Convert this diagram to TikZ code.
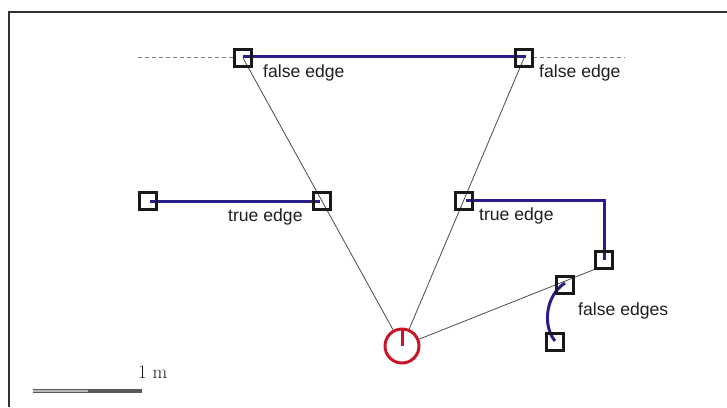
\documentclass[tikz,border=0pt]{standalone}
\usepackage{fontspec}
\usetikzlibrary{calc}
\setmainfont{Liberation Sans}
\newfontfamily\lmserif{Latin Modern Roman}
\definecolor{edgeblue}{RGB}{42,30,140}
\definecolor{origred}{RGB}{200,22,40}
\definecolor{raygray}{RGB}{75,75,75}
\definecolor{boxblack}{RGB}{25,25,25}
\definecolor{textgray}{RGB}{30,30,30}
\definecolor{framegray}{RGB}{50,50,50}
\tikzset{
  mark box/.style={draw=boxblack, line width=2.4pt, rectangle, minimum size=17pt, inner sep=0pt},
  ray/.style={draw=raygray, line width=0.8pt},
  wall/.style={draw=edgeblue, line width=3pt},
  guide/.style={draw=gray, line width=0.7pt, dash pattern=on 4pt off 3pt},
  lbl/.style={anchor=base west, inner sep=0pt, font=\fontsize{17.6}{20}\selectfont, text=textgray}
}
\begin{document}
\begin{tikzpicture}[x=1pt,y=-1pt]
\useasboundingbox (0,0) rectangle (727,407);
% frame (left and top sides)
\draw[framegray, line width=2.2pt] (9,407) -- (9,12) -- (727,12);

% sensor origin
\node[circle, draw=origred, line width=3pt, minimum size=34pt, inner sep=0pt] (o) at (402,346) {};

% landmark squares (placed as coordinates first, drawn last)
\coordinate (s1) at (243,58);
\coordinate (s2) at (524,58);
\coordinate (s3) at (148,201);
\coordinate (s4) at (322,201);
\coordinate (s5) at (464,201);
\coordinate (s6) at (604,260);
\coordinate (s7) at (565,285);
\coordinate (s8) at (555,342);
\coordinate (dl) at (138,57);
\coordinate (dr) at (625,57);

% rays from the origin
\draw[ray] (o) -- (s1);
\draw[ray] (o) -- (s2);
\draw[ray] (o) -- ($(s6)+(-6,8)$);

% dashed extension of the top wall
\draw[guide] (dl) -- ($(s1)+(-8.5,-1)$);
\draw[guide] ($(s2)+(8.5,-1)$) -- (dr);

% blue edges
\draw[wall] ($(s1)+(0,-2)$) -- ($(s2)+(2,-2)$);
\draw[wall] ($(s3)+(2,0)$) -- ($(s4)+(-2,0)$);
\draw[wall] ($(s5)+(2,-1)$) -- (604,200) -- (s6);
\draw[wall] ($(s7)+(0,-2)$) .. controls (546,295) and (542,325) .. ($(s8)+(0,-1)$);

% squares on top
\foreach \n in {1,...,8} {
  \node[mark box] (b\n) at (s\n) {};
}

% tick marking the heading
\draw[origred, line width=3pt] (o.center) -- (o.north);

% labels
\node[lbl] (fe1) at (263,77) {false edge};
\node[lbl] (fe2) at (539,77) {false edge};
\node[lbl] (te1) at (228,221) {true edge};
\node[lbl] (te2) at (479,220) {true edge};
\node[lbl] (fes) at (578,315) {false edges};

% scale bar
\coordinate (sb1) at (33,391);
\coordinate (sb2) at (142,391);
\draw[gray!70!black, line width=4pt] (sb1) -- (sb2);
\draw[gray!55, line width=1.2pt] (sb1) -- ($(sb1)!0.5!(sb2)$);
\node[anchor=base west, inner sep=0pt, font=\lmserif\fontsize{19}{21}\selectfont, text=textgray] (sbl) at (138,378) {1\hspace{0.3em}m};
\end{tikzpicture}
\end{document}
